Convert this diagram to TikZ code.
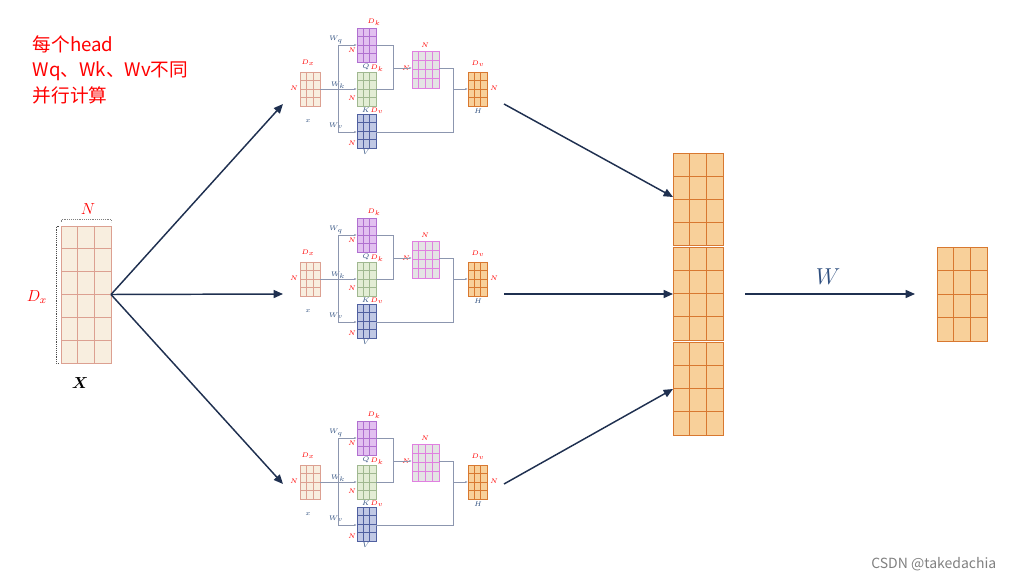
\documentclass[tikz,border=0pt]{standalone}
\usepackage{amsmath,amssymb,bm}
\usepackage{fontspec}
\newfontfamily\cjk{Noto Sans CJK SC}
\usetikzlibrary{calc,arrows.meta}

\definecolor{arr}{HTML}{1F3050}
\definecolor{wblue}{HTML}{2F4F7F}

\tikzset{
  mat/.style={draw, inner sep=0pt, outer sep=0pt, line width=0.5pt},
  xm/.style={mat, fill={rgb,255:red,248;green,238;blue,223}, draw={rgb,255:red,220;green,160;blue,145}},
  qm/.style={mat, fill={rgb,255:red,226;green,192;blue,240}, draw={rgb,255:red,176;green,112;blue,208}},
  km/.style={mat, fill={rgb,255:red,227;green,237;blue,213}, draw={rgb,255:red,160;green,184;blue,144}},
  vm/.style={mat, fill={rgb,255:red,192;green,200;blue,228}, draw={rgb,255:red,80;green,96;blue,160}},
  sm/.style={mat, fill={rgb,255:red,228;green,228;blue,228}, draw={rgb,255:red,224;green,128;blue,224}},
  hm/.style={mat, fill={rgb,255:red,248;green,208;blue,154}, draw={rgb,255:red,216;green,120;blue,48}},
  lbl/.style={text=red, font=\fontsize{5}{5}\selectfont\itshape, inner sep=0pt},
  nm/.style={text=wblue, font=\fontsize{5}{5}\selectfont\itshape, inner sep=0pt},
  wire/.style={draw={rgb,255:red,140;green,150;blue,175}, line width=0.5pt},
  big arrow/.style={draw=arr, line width=1.1pt, -{Triangle[length=7pt,width=6pt]}}
}

% name, left, top, width, height, cols, rows, style
\newcommand{\mat}[8]{%
  \node[#8, minimum width=#4*0.75pt, minimum height=#5*0.75pt, anchor=north west] (#1) at (#2,#3) {};
  \foreach \i in {1,...,#6}
    \draw[#8, fill=none] ($(#1.north west)!\i/#6!(#1.north east)$) -- ($(#1.south west)!\i/#6!(#1.south east)$);
  \foreach \j in {1,...,#7}
    \draw[#8, fill=none] ($(#1.north west)!\j/#7!(#1.south west)$) -- ($(#1.north east)!\j/#7!(#1.south east)$);
}

% one attention head: prefix, vertical shift
\newcommand{\head}[2]{%
\begin{scope}[shift={(0,#2)}]
  \mat{#1x}{300}{72}{20}{34}{3}{4}{xm}
  \mat{#1q}{357}{28}{19}{34}{3}{4}{qm}
  \mat{#1k}{357}{72}{19}{34}{3}{4}{km}
  \mat{#1v}{357}{114}{19}{34}{3}{4}{vm}
  \mat{#1s}{412}{51}{27}{37}{4}{4}{sm}
  \mat{#1h}{468}{72}{19}{34}{3}{4}{hm}
  \node[lbl] at (308,63) {$D_x$};
  \node[lbl] at (294,88) {$N$};
  \node[nm] at (308,121) {$x$};
  \node[lbl] at (374,22) {$D_k$};
  \node[lbl] at (352,50) {$N$};
  \node[nm] at (366,67) {$Q$};
  \node[lbl] at (377,68) {$D_k$};
  \node[lbl] at (352,98) {$N$};
  \node[nm] at (366,110) {$K$};
  \node[lbl] at (377,111) {$D_v$};
  \node[lbl] at (352,143) {$N$};
  \node[nm] at (366,152) {$V$};
  \node[lbl] at (425,45) {$N$};
  \node[lbl] at (406,68) {$N$};
  \node[lbl] at (478,64) {$D_v$};
  \node[lbl] at (494,88) {$N$};
  \node[nm] at (478,111) {$H$};
  \node[nm] at (336,40) {$W_q$};
  \node[nm] at (338,85) {$W_k$};
  \node[nm] at (336,126) {$W_v$};
  \coordinate (#1b) at (338,89);
  \draw[wire] (#1x.east) -- (#1b);
  \draw[wire, -{Latex[length=2pt]}] (338,45) -- (338,132) -- (#1v.west |- 338,132);
  \draw[wire, -{Latex[length=2pt]}] (338,45) -- (#1q.west |- 338,45);
  \draw[wire, -{Latex[length=2pt]}] (#1b) -- (#1k.west |- #1b);
  \draw[wire] (#1q.east |- 0,45) -- (393,45) -- (393,89) -- (#1k.east |- 0,89);
  \draw[wire, -{Latex[length=2pt]}] (393,68) -- (#1s.west |- 393,68);
  \draw[wire] (#1v.east |- 338,132) -- (453,132) -- (453,68) -- (#1s.east |- 453,68);
  \draw[wire, -{Latex[length=2pt]}] (453,89) -- (#1h.west |- 453,89);
\end{scope}}

\begin{document}
\begin{tikzpicture}[x=0.75pt, y=-0.75pt]
  \useasboundingbox (0,0) rectangle (1015,581);

  % input
  \mat{X}{61}{226}{50}{137}{3}{6}{xm}
  \draw[densely dotted, gray] (61,222) -- (61,219) -- (111,219) -- (111,222);
  \draw[densely dotted, black!70] (59,226) -- (56,226) -- (56,363) -- (59,363);
  \node[text=red, font=\large\itshape] (nX) at (88,209) {$N$};
  \node[text=red, font=\large] (dX) at (37,297) {$D_x$};
  \node[font=\large] (lX) at (80,383) {$\bm{X}$};

  % heads
  \head{a}{0}
  \head{b}{190}
  \head{c}{393}

  % concatenation
  \mat{c1}{673}{153}{50}{92}{3}{4}{hm}
  \mat{c2}{673}{247}{50}{93}{3}{4}{hm}
  \mat{c3}{673}{342}{50}{93}{3}{4}{hm}
  \mat{out}{937}{247}{50}{94}{3}{4}{hm}
  \coordinate (cm) at (745,294);

  \draw[big arrow] (X.east) -- (283,104);
  \draw[big arrow] (X.east) -- (283,294);
  \draw[big arrow] (X.east) -- (283,484);
  \draw[big arrow] (504,104) -- (c1.west |- 0,197);
  \draw[big arrow] (504,294) -- (c2.west |- 0,294);
  \draw[big arrow] (504,484) -- (c3.west |- 0,389);
  \draw[big arrow] (cm) -- (915,294);
  \node[text=wblue, font=\LARGE\itshape] (w) at (828,277) {$W$};

  \node[text=red, font=\cjk\fontsize{14}{19}\selectfont, align=left, anchor=north west] (note) at (28,31)
    {每个head\\Wq、Wk、Wv不同\\并行计算};
  \node[text=gray, font=\cjk\fontsize{10.5}{12}\selectfont, anchor=east] (mark) at (1001,564) {CSDN @takedachia};
\end{tikzpicture}
\end{document}
